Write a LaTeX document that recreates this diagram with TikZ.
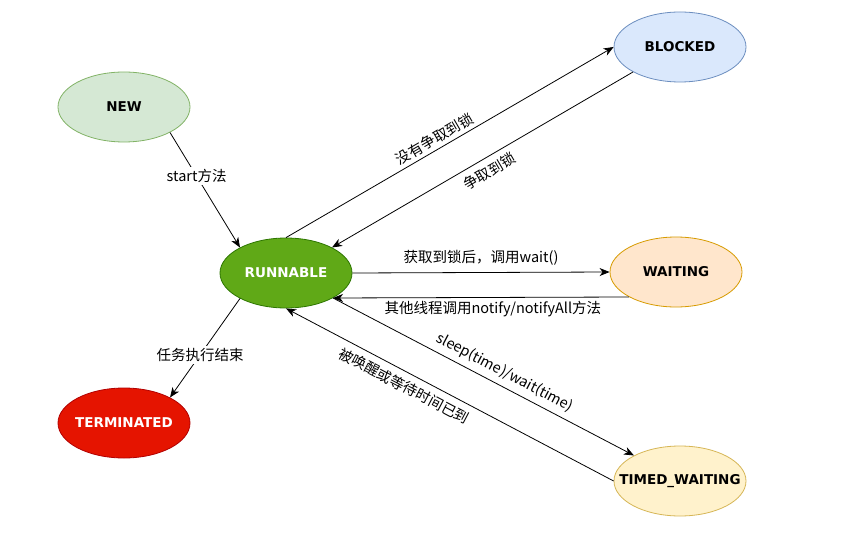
\documentclass[tikz,border=0pt]{standalone}
\usepackage{fontspec}
\setmainfont{Noto Sans CJK SC}
\newfontfamily\statefont{DejaVu Sans}
\usepackage{tikz}
\usetikzlibrary{arrows.meta,shapes.geometric}
\definecolor{newfill}{HTML}{D5E8D4}\definecolor{newline}{HTML}{82B366}
\definecolor{blkfill}{HTML}{DAE8FC}\definecolor{blkline}{HTML}{6C8EBF}
\definecolor{runfill}{HTML}{60A917}\definecolor{runline}{HTML}{2D7600}
\definecolor{waitfill}{HTML}{FFE6CC}\definecolor{waitline}{HTML}{D79B00}
\definecolor{termfill}{HTML}{E51400}\definecolor{termline}{HTML}{B20000}
\definecolor{timedfill}{HTML}{FFF2CC}\definecolor{timedline}{HTML}{D6B656}
% state names may run over the ellipse, as in the drawing
\newcommand\stname[1]{\makebox[0pt]{#1}}
\tikzset{
  state/.style={ellipse, draw, minimum width=132pt, minimum height=70pt,
    inner sep=0pt, line width=0.8pt, font=\statefont\bfseries\fontsize{13.5}{16}\selectfont},
  trans/.style={-{Stealth[length=10pt,width=8pt,inset=3pt]}, line width=0.8pt},
  lbl/.style={font=\fontsize{14.5}{17}\selectfont, inner sep=2.5pt}
}
\begin{document}
\begin{tikzpicture}[x=1pt,y=-1pt]
\useasboundingbox[fill=white] (0,0) rectangle (842,537);
% states
\node[state, fill=newfill, draw=newline] (new) at (124,107) {\stname{NEW}};
\node[state, fill=blkfill, draw=blkline] (blk) at (680,47) {\stname{BLOCKED}};
\node[state, fill=runfill, draw=runline, text=white] (run) at (286,273) {\stname{RUNNABLE}};
\node[state, fill=waitfill, draw=waitline] (wait) at (676,272) {\stname{WAITING}};
\node[state, fill=termfill, draw=termline, text=white] (term) at (124,423) {\stname{TERMINATED}};
\node[state, fill=timedfill, draw=timedline] (timed) at (680,481) {\stname{TIMED\_WAITING}};
% transitions
\draw[trans] (new.-29) -- node[lbl, fill=white, pos=0.38] (lstart) {start方法} (run.151);
\draw[trans] (run.209) -- node[lbl, fill=white, pos=0.57] (lend) {任务执行结束} (term.29);
\draw[trans] (run.north) -- node[lbl, sloped, above=1pt, pos=0.47] (lnolock) {没有争取到锁} (blk.west);
\draw[trans] (blk.208) -- node[lbl, sloped, below=4pt, pos=0.5] (llock) {争取到锁} (run.29);
\draw[trans] (run.east) -- node[lbl, above=4pt, pos=0.5] (lwait) {获取到锁后，调用wait()} (wait.west);
\draw[trans] (wait.208) -- node[lbl, below=1pt, pos=0.46] (lnotify) {其他线程调用notify/notifyAll方法} (run.332);
\draw[trans] (run.332) -- node[lbl, sloped, above=3pt, pos=0.55] (lsleep) {sleep(time)/wait(time)} (timed.151);
\draw[trans] (timed.west) -- node[lbl, sloped, below=4pt, pos=0.62] (lwake) {被唤醒或等待时间已到} (run.south);
\end{tikzpicture}
\end{document}
